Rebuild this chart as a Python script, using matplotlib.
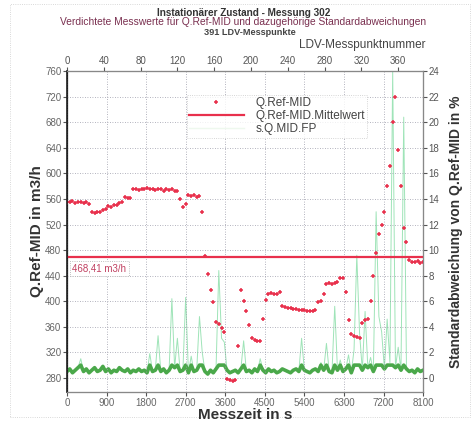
import numpy as np
import matplotlib
matplotlib.use("Agg")
import matplotlib.pyplot as plt
from matplotlib.patches import Rectangle

plt.rcParams['font.family'] = ['Liberation Sans', 'DejaVu Sans']

# LDV-Messpunkte (jeder dritte Punkt) und zugehoerige Messzeit
messpunkt = np.arange(0, 390, 3)
sek_pro_punkt = 20.92
messzeit = messpunkt * sek_pro_punkt

# Q.Ref-MID in m3/h
q_ref_mid = [
    556, 555, 557, 554, 556, 555, 553, 556, 552, 540,
    538, 540, 539, 542, 544, 549, 548, 551, 550, 553,
    556, 563, 562, 561, 575, 576, 574, 576, 575, 577,
    575, 576, 574, 576, 575, 573, 575, 574, 576, 573,
    572, 560, 548, 552, 566, 564, 566, 563, 565, 540,
    470, 442, 418, 398, 368, 364, 358, 352, 278, 276,
    275, 277, 330, 418, 400, 385, 362, 342, 340, 337,
    338, 372, 402, 412, 413, 411, 412, 414, 392, 391,
    390, 389, 388, 388, 387, 386, 386, 385, 385, 384,
    386, 398, 400, 412, 427, 428, 427, 428, 430, 437,
    436, 415, 370, 348, 346, 344, 343, 366, 370, 372,
    400, 440, 475, 505, 520, 540, 580, 612, 680, 720,
    636, 580, 515, 492, 465, 462, 461, 463, 460, 462,
]

# s.Q.MID.FP Standardabweichung in %
s_q_mid = [
    0.5, 0.7, 0.4, 0.6, 0.8, 1.5, 0.5, 0.7, 0.4, 0.6,
    0.8, 0.5, 0.6, 0.9, 0.5, 0.7, 0.4, 0.6, 0.5, 0.8,
    0.6, 0.5, 0.7, 0.4, 0.6, 0.5, 0.7, 0.5, 0.6, 0.4,
    1.9, 0.5, 0.6, 3.3, 0.5, 0.7, 0.4, 0.6, 6.2, 0.8,
    3.1, 0.5, 0.6, 6.3, 0.4, 1.7, 0.5, 0.6, 4.8, 2.0,
    0.5, 0.3, 0.6, 0.4, 0.7, 8.4, 3.1, 2.8, 0.6, 0.4,
    0.5, 0.6, 0.4, 0.7, 2.9, 0.5, 0.6, 0.4, 0.7, 0.5,
    1.5, 0.6, 0.4, 0.7, 0.5, 0.6, 0.4, 0.5, 0.7, 0.6,
    0.5, 0.4, 0.6, 0.7, 0.5, 3.1, 0.6, 0.5, 0.4, 0.6,
    0.7, 0.5, 1.2, 0.6, 2.7, 0.5, 0.4, 5.6, 0.6, 1.4,
    0.5, 0.7, 1.8, 0.4, 2.2, 9.6, 3.5, 0.6, 5.2, 0.8,
    1.6, 0.5, 13.0, 4.8, 3.6, 0.7, 4.6, 1.2, 24.0, 0.8,
    2.4, 0.6, 20.4, 0.7, 0.5, 0.6, 0.4, 0.7, 0.5, 0.6,
]

q_mittelwert = 468.41
mittelwert_text = '468,41 m3/h'

red = '#e8304c'
green_dark = '#4aa84a'
green_light = '#9fe4b8'
grid_col = '#9a9aa8'

fig = plt.figure(figsize=(4.75, 4.21), dpi=100)
ax = fig.add_axes([0.141, 0.069, 0.750, 0.762])
ax2 = ax.twinx()
ax3 = ax.twiny()

# Standardabweichung (rechte Achse)
s_arr = np.array(s_q_mid)
ax2.plot(messzeit, s_arr, color=green_light, lw=0.7, zorder=2)
ax2.plot(messzeit, np.minimum(s_arr, 1.0), color=green_dark, lw=2.6, zorder=3)
ax2.set_ylim((258 - 280) / 20, 24)
ax2.set_yticks(np.arange(0, 25, 2))
ax2.set_ylabel('Standardabweichung von Q.Ref-MID in %', fontsize=10,
               fontweight='bold', color='#333333', labelpad=7)

# Q.Ref-MID (linke Achse) - ueber die Zwillingsachse legen
ax.set_zorder(ax2.get_zorder() + 1)
ax.patch.set_visible(False)
ax.plot(messzeit, q_ref_mid, linestyle='none', marker='+', markersize=3.5,
        mew=1.1, color=red, label='Q.Ref-MID')
ax.axhline(q_mittelwert, color=red, lw=1.6, label='Q.Ref-MID.Mittelwert')
ax.plot([], [], color='#eef8ee', lw=1, label='s.Q.MID.FP')

ax.set_xlim(0, 8100)
ax.set_ylim(258, 760)
ax.set_xticks(np.arange(0, 8101, 900))
ax.set_yticks(np.arange(280, 761, 40))
ax.grid(True, linestyle=(0, (1, 2)), color=grid_col, lw=0.6)
ax.set_xlabel('Messzeit in s', fontsize=11, fontweight='bold', labelpad=0,
              color='#333333')
ax.set_ylabel('Q.Ref-MID in m3/h', fontsize=11, fontweight='bold', labelpad=1,
              color='#333333')

# LDV-Messpunktnummer oben
ax3.set_xlim(0, 8100 / sek_pro_punkt)
ax3.set_xticks(np.arange(0, 361, 40))

for a in (ax, ax2, ax3):
    a.tick_params(labelsize=7, colors='#555555', length=3, pad=1)
ax.tick_params(axis='both', labelcolor='#666666')
ax3.set_xlabel('LDV-Messpunktnummer', fontsize=8.5, color='#444444')
ax3.xaxis.set_label_coords(0.83, 1.072)

for a in (ax, ax2, ax3):
    for s in ('top', 'bottom', 'right'):
        a.spines[s].set_color('#888888')
        a.spines[s].set_linestyle((0, (1, 1)))
        a.spines[s].set_linewidth(0.8)
ax.spines['left'].set_color('#222222')
ax.spines['left'].set_linewidth(1.2)
ax2.spines['right'].set_linestyle('-')

# Beschriftung Mittelwert
ax.text(120, q_mittelwert - 10, mittelwert_text, fontsize=7, color='#c04060',
        va='top', ha='left',
        bbox=dict(boxstyle='square,pad=0.25', fc='white', ec='#aaaaaa',
                  ls=':', lw=0.6))

leg = ax.legend(loc='upper left', bbox_to_anchor=(0.32, 0.945), fontsize=8.5,
                frameon=True, fancybox=False, handlelength=4.6,
                borderpad=0.2, labelspacing=0.1, handletextpad=1.0)
leg.get_frame().set_edgecolor('#bbbbbb')
leg.get_frame().set_linestyle(':')
leg.get_frame().set_linewidth(0.6)
for t in leg.get_texts():
    t.set_color('#444444')

fig.text(0.513, 0.962, 'Instationärer Zustand - Messung 302', ha='center',
         fontsize=7.2, fontweight='bold', color='#333333')
fig.text(0.512, 0.940, 'Verdichtete Messwerte für Q.Ref-MID und dazugehörige '
         'Standardabweichungen', ha='center', fontsize=7.4, color='#7a3050')
fig.text(0.525, 0.917, '391 LDV-Messpunkte', ha='center', fontsize=6.6,
         fontweight='bold', color='#444444')

fig.add_artist(Rectangle((0.02, 0.01), 0.97, 0.98, transform=fig.transFigure,
                         fill=False, ec='#cccccc', ls=':', lw=0.6))

fig.savefig('out.png', dpi=100)
